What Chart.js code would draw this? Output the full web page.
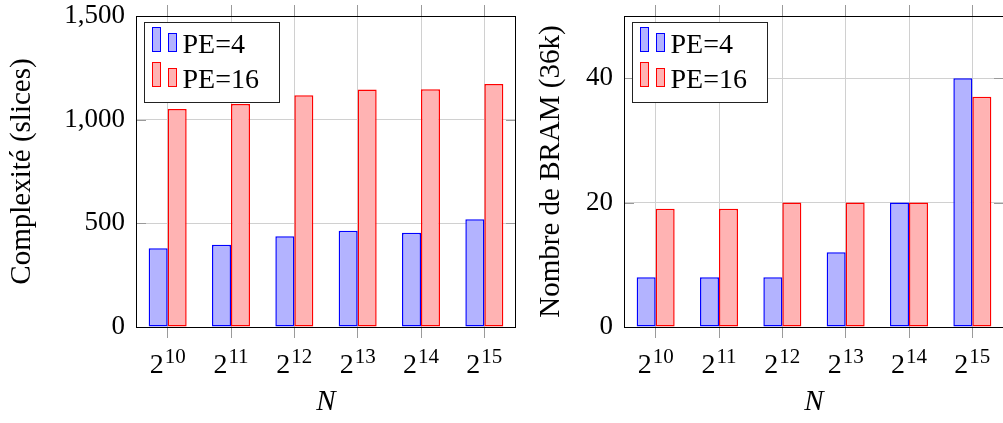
<!DOCTYPE html>
<html lang="fr">
<head>
  <meta charset="UTF-8">
  <title>Complexité et BRAM</title>
  <script src="https://cdn.jsdelivr.net/npm/chart.js"></script>
  <style>
    html, body { margin: 0; padding: 0; background: #fff; overflow: hidden; }
    .wrap { position: relative; width: 1003px; height: 423px; overflow: hidden; }
    #left { position: absolute; left: 0; top: 0; }
    #right { position: absolute; left: 520px; top: 0; }
  </style>
</head>
<body>
  <div class="wrap">
    <canvas id="left" width="520" height="423"></canvas>
    <canvas id="right" width="490" height="423"></canvas>
  </div>
  <script>
    // data
    const categories = ['2^10', '2^11', '2^12', '2^13', '2^14', '2^15'];
    const seriesNames = ['PE=4', 'PE=16'];
    const slicesPE4 = [380, 397, 438, 464, 455, 520];
    const slicesPE16 = [1052, 1076, 1118, 1146, 1147, 1172];
    const bramPE4 = [8, 8, 8, 12, 20, 40];
    const bramPE16 = [19, 19, 20, 20, 20, 37];
    const slicesTicks = [0, 500, 1000, 1500];
    const bramTicks = [0, 20, 40];

    const SERIF = '"Liberation Serif", "DejaVu Serif", serif';
    const GRID = '#d0d0d0', TICK = '#9a9a9a';

    // frame, inner y ticks, superscript x labels and the boxed legend
    const decor = {
      id: 'decor',
      beforeDatasetsDraw(chart) {
        const { ctx, chartArea: a } = chart;
        const y = chart.scales.y;
        ctx.save();
        ctx.strokeStyle = TICK;
        ctx.lineWidth = 1;
        y.ticks.forEach((t, i) => {
          const py = Math.round(y.getPixelForTick(i)) + 0.5;
          ctx.beginPath();
          ctx.moveTo(a.left, py); ctx.lineTo(a.left + 10, py);
          ctx.moveTo(a.right - 10, py); ctx.lineTo(a.right, py);
          ctx.stroke();
        });
        ctx.restore();
      },
      afterDatasetsDraw(chart) {
        const { ctx, chartArea: a } = chart;
        ctx.save();
        ctx.strokeStyle = '#000';
        ctx.lineWidth = 1;
        ctx.strokeRect(Math.round(a.left) + 0.5, Math.round(a.top) + 0.5,
          Math.round(a.right - a.left) - 1, Math.round(a.bottom - a.top));
        ctx.restore();
      },
      afterDraw(chart) {
        const { ctx, chartArea: a } = chart;
        const xs = chart.scales.x;
        ctx.save();
        ctx.fillStyle = '#000';
        ctx.textBaseline = 'alphabetic';
        ctx.textAlign = 'left';
        categories.forEach((c, i) => {
          const [base, exp] = c.split('^');
          ctx.font = '28px ' + SERIF;
          const wb = ctx.measureText(base).width;
          ctx.font = '21px ' + SERIF;
          const we = ctx.measureText(exp).width;
          const sx = xs.getPixelForTick(i) - (wb + we + 1) / 2;
          ctx.font = '28px ' + SERIF;
          ctx.fillText(base, sx, 373);
          ctx.font = '21px ' + SERIF;
          ctx.fillText(exp, sx + wb + 1, 363);
        });

        // legend
        const bx = Math.round(a.left) + 8.5, by = Math.round(a.top) + 6.5;
        ctx.fillStyle = '#fff';
        ctx.fillRect(bx, by, 135, 80);
        ctx.strokeStyle = '#222';
        ctx.strokeRect(bx, by, 135, 80);
        chart.data.datasets.forEach((ds, k) => {
          const top = by + k * 35;
          ctx.fillStyle = ds.backgroundColor;
          ctx.strokeStyle = ds.borderColor;
          ctx.fillRect(bx + 8, top + 5, 8, 24);
          ctx.strokeRect(bx + 8, top + 5, 8, 24);
          ctx.fillRect(bx + 24, top + 11, 8, 18);
          ctx.strokeRect(bx + 24, top + 11, 8, 18);
          ctx.fillStyle = '#000';
          ctx.font = '28px ' + SERIF;
          ctx.fillText(ds.label, bx + 38, top + 30.5);
        });
        ctx.restore();
      }
    };

    function makeDatasets(a, b) {
      return [
        { label: seriesNames[0], data: a, backgroundColor: 'rgb(179,179,255)', borderColor: 'rgb(0,0,255)',
          borderWidth: 1.5, borderSkipped: false, categoryPercentage: 0.6, barPercentage: 1 },
        { label: seriesNames[1], data: b, backgroundColor: 'rgb(255,179,179)', borderColor: 'rgb(255,0,0)',
          borderWidth: 1.5, borderSkipped: false, categoryPercentage: 0.6, barPercentage: 1 }
      ];
    }

    function makeChart(id, dataA, dataB, tickVals, yMax, yTitle, yWidth, titlePad, rightPad) {
      return new Chart(document.getElementById(id), {
        type: 'bar',
        data: { labels: categories, datasets: makeDatasets(dataA, dataB) },
        options: {
          responsive: false,
          animation: false,
          layout: { padding: { left: 0, right: rightPad, top: 0, bottom: 0 } },
          plugins: { legend: { display: false }, tooltip: { enabled: false } },
          scales: {
            x: {
              type: 'category', position: 'bottom', offset: true,
              grid: { color: GRID, tickColor: TICK, tickLength: 11, offset: false },
              border: { display: false },
              ticks: { display: false },
              title: { display: true, text: 'N', color: '#000', padding: { bottom: 3 },
                font: { family: SERIF, size: 29, style: 'italic' } },
              afterFit: s => { s.height = 96; s.paddingLeft = 0; s.paddingRight = 0; }
            },
            xTop: {
              type: 'category', position: 'top', offset: true,
              grid: { drawOnChartArea: false, tickColor: TICK, tickLength: 11, offset: false },
              border: { display: false },
              ticks: { display: false },
              afterFit: s => { s.height = 16; s.paddingLeft = 0; s.paddingRight = 0; }
            },
            y: {
              type: 'linear', min: 0, max: yMax,
              afterBuildTicks: s => { s.ticks = tickVals.map(v => ({ value: v })); },
              grid: { color: GRID, drawTicks: false },
              border: { display: false },
              ticks: { color: '#000', padding: 11, font: { family: SERIF, size: 27 },
                callback: v => v.toLocaleString('en-US') },
              title: { display: true, text: yTitle, color: '#000', padding: { top: titlePad },
                font: { family: SERIF, size: 29 } },
              afterFit: s => { s.width = yWidth; s.paddingTop = 0; s.paddingBottom = 0; }
            }
          }
        },
        plugins: [decor]
      });
    }

    makeChart('left', slicesPE4, slicesPE16, slicesTicks, 1500, 'Complexité (slices)', 136, 5, 4);
    makeChart('right', bramPE4, bramPE16, bramTicks, 50, 'Nombre de BRAM (36k)', 104, 14, 6);
  </script>
</body>
</html>
